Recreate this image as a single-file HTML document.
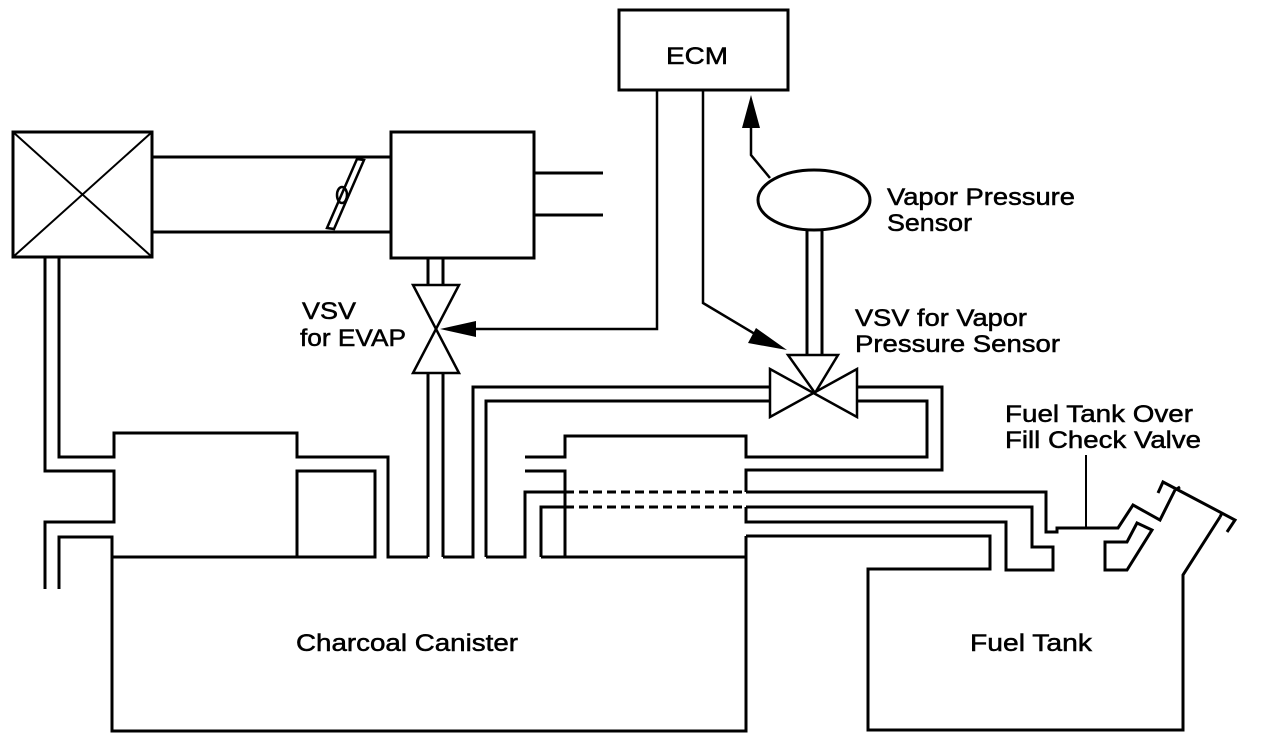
<!DOCTYPE html>
<html><head><meta charset="utf-8"><style>
html,body{margin:0;padding:0;background:#fff;width:1264px;height:744px;overflow:hidden}
svg{display:block}
text{font-family:"Liberation Sans",Arial,sans-serif;font-size:24px;fill:#000;stroke:#000;stroke-width:0.5px}
</style></head><body>
<svg width="1264" height="744" viewBox="0 0 1264 744" xmlns="http://www.w3.org/2000/svg">
<g fill="none" stroke="#000" stroke-width="3" stroke-linejoin="miter">
<rect x="13" y="132" width="139" height="125"/>
<line x1="13" y1="132" x2="152" y2="257" stroke-width="2"/>
<line x1="152" y1="132" x2="13" y2="257" stroke-width="2"/>
<line x1="152" y1="157" x2="391" y2="157"/>
<line x1="152" y1="232" x2="391" y2="232"/>
<polygon points="327,228 334,229 364,160 357,159" stroke-width="2.5"/>
<ellipse cx="342" cy="195" rx="5" ry="8" stroke-width="2.5"/>
<rect x="391" y="132" width="143" height="126"/>
<line x1="534" y1="173" x2="603" y2="173"/>
<line x1="534" y1="215" x2="603" y2="215"/>
<line x1="428" y1="258" x2="428" y2="285"/>
<line x1="443" y1="258" x2="443" y2="285"/>
<polygon points="413,285 459,285 413,373 459,373" stroke-width="2.5"/>
<line x1="428" y1="373" x2="428" y2="557"/>
<line x1="443" y1="373" x2="443" y2="557"/>
<rect x="619" y="10" width="169" height="80"/>
<polyline points="657,90 657,329 470,329" stroke-width="2.5"/>
<polyline points="703,90 703,303 765,340" stroke-width="2.5"/>
<ellipse cx="814" cy="200" rx="56" ry="30"/>
<polyline points="770,178 751,155 751,125" stroke-width="2.5"/>
<line x1="807" y1="230" x2="807" y2="355"/>
<line x1="822" y1="230" x2="822" y2="355"/>
<polygon points="788,355 838,355 815,393" stroke-width="2.5"/>
<polygon points="770,369 770,417 857,369 857,417" stroke-width="2.5"/>
<polyline points="45,257 45,471 114,471 114,522 45,522 45,589"/>
<polyline points="59,257 59,457 114,457 114,433 297,433 297,457 388,457 388,557 428,557"/>
<polyline points="59,589 59,537 112,537 112,731 746,731 746,536"/>
<rect x="297" y="471" width="78" height="86"/>
<line x1="112" y1="557" x2="375" y2="557"/>
<polyline points="443,557 473,557 473,387 770,387"/>
<polyline points="486,557 486,401 770,401"/>
<polyline points="857,387 942,387 942,470 746,470 746,492"/>
<polyline points="857,401 927,401 927,457 746,457 746,436 565,436 565,457 525,457"/>
<polyline points="525,471 565,471 565,557"/>
<polyline points="486,557 525,557 525,492 565,492"/>
<polyline points="541,557 541,507 565,507"/>
<line x1="541" y1="557" x2="746" y2="557"/>
<line x1="565" y1="492" x2="746" y2="492" stroke-dasharray="9,5"/>
<line x1="565" y1="507" x2="746" y2="507" stroke-dasharray="9,5"/>
<polyline points="746,492 1046,492 1046,532 1057,532 1057,528 1118,528 1133,505 1160,520 1175,490"/>
<polyline points="746,507 1032,507 1032,547 1053,547 1053,570 1006,570 1006,522 746,522 746,507"/>
<polyline points="746,536 990,536 990,569 868,569 868,730 1183,730 1183,575 1220,517"/>
<line x1="1086" y1="455" x2="1086" y2="528" stroke-width="2"/>
<polyline points="1158,493 1163,482 1235,520 1227,532"/>
<line x1="1175" y1="490" x2="1180" y2="487"/>
<line x1="1220" y1="517" x2="1222" y2="513"/>
<polygon points="1105,570 1105,542 1127,542 1137,523 1152,530 1127,570"/>
</g>
<g fill="#000">
<polygon points="440,329 476,321 476,337"/>
<polygon points="787,350 756,328 748,343"/>
<polygon points="751,95 742,128 760,128"/>
</g>
<text x="666" y="64" textLength="62" lengthAdjust="spacingAndGlyphs">ECM</text>
<text x="887" y="205" textLength="188" lengthAdjust="spacingAndGlyphs">Vapor Pressure</text>
<text x="887" y="231" textLength="85" lengthAdjust="spacingAndGlyphs">Sensor</text>
<text x="855" y="326" textLength="172" lengthAdjust="spacingAndGlyphs">VSV for Vapor</text>
<text x="855" y="352" textLength="205" lengthAdjust="spacingAndGlyphs">Pressure Sensor</text>
<text x="302" y="319" textLength="54" lengthAdjust="spacingAndGlyphs">VSV</text>
<text x="300" y="346" textLength="106" lengthAdjust="spacingAndGlyphs">for EVAP</text>
<text x="1005" y="422" textLength="188" lengthAdjust="spacingAndGlyphs">Fuel Tank Over</text>
<text x="1005" y="448" textLength="196" lengthAdjust="spacingAndGlyphs">Fill Check Valve</text>
<text x="296" y="651" textLength="222" lengthAdjust="spacingAndGlyphs">Charcoal Canister</text>
<text x="970" y="651" textLength="122" lengthAdjust="spacingAndGlyphs">Fuel Tank</text>
</svg>
</body></html>
